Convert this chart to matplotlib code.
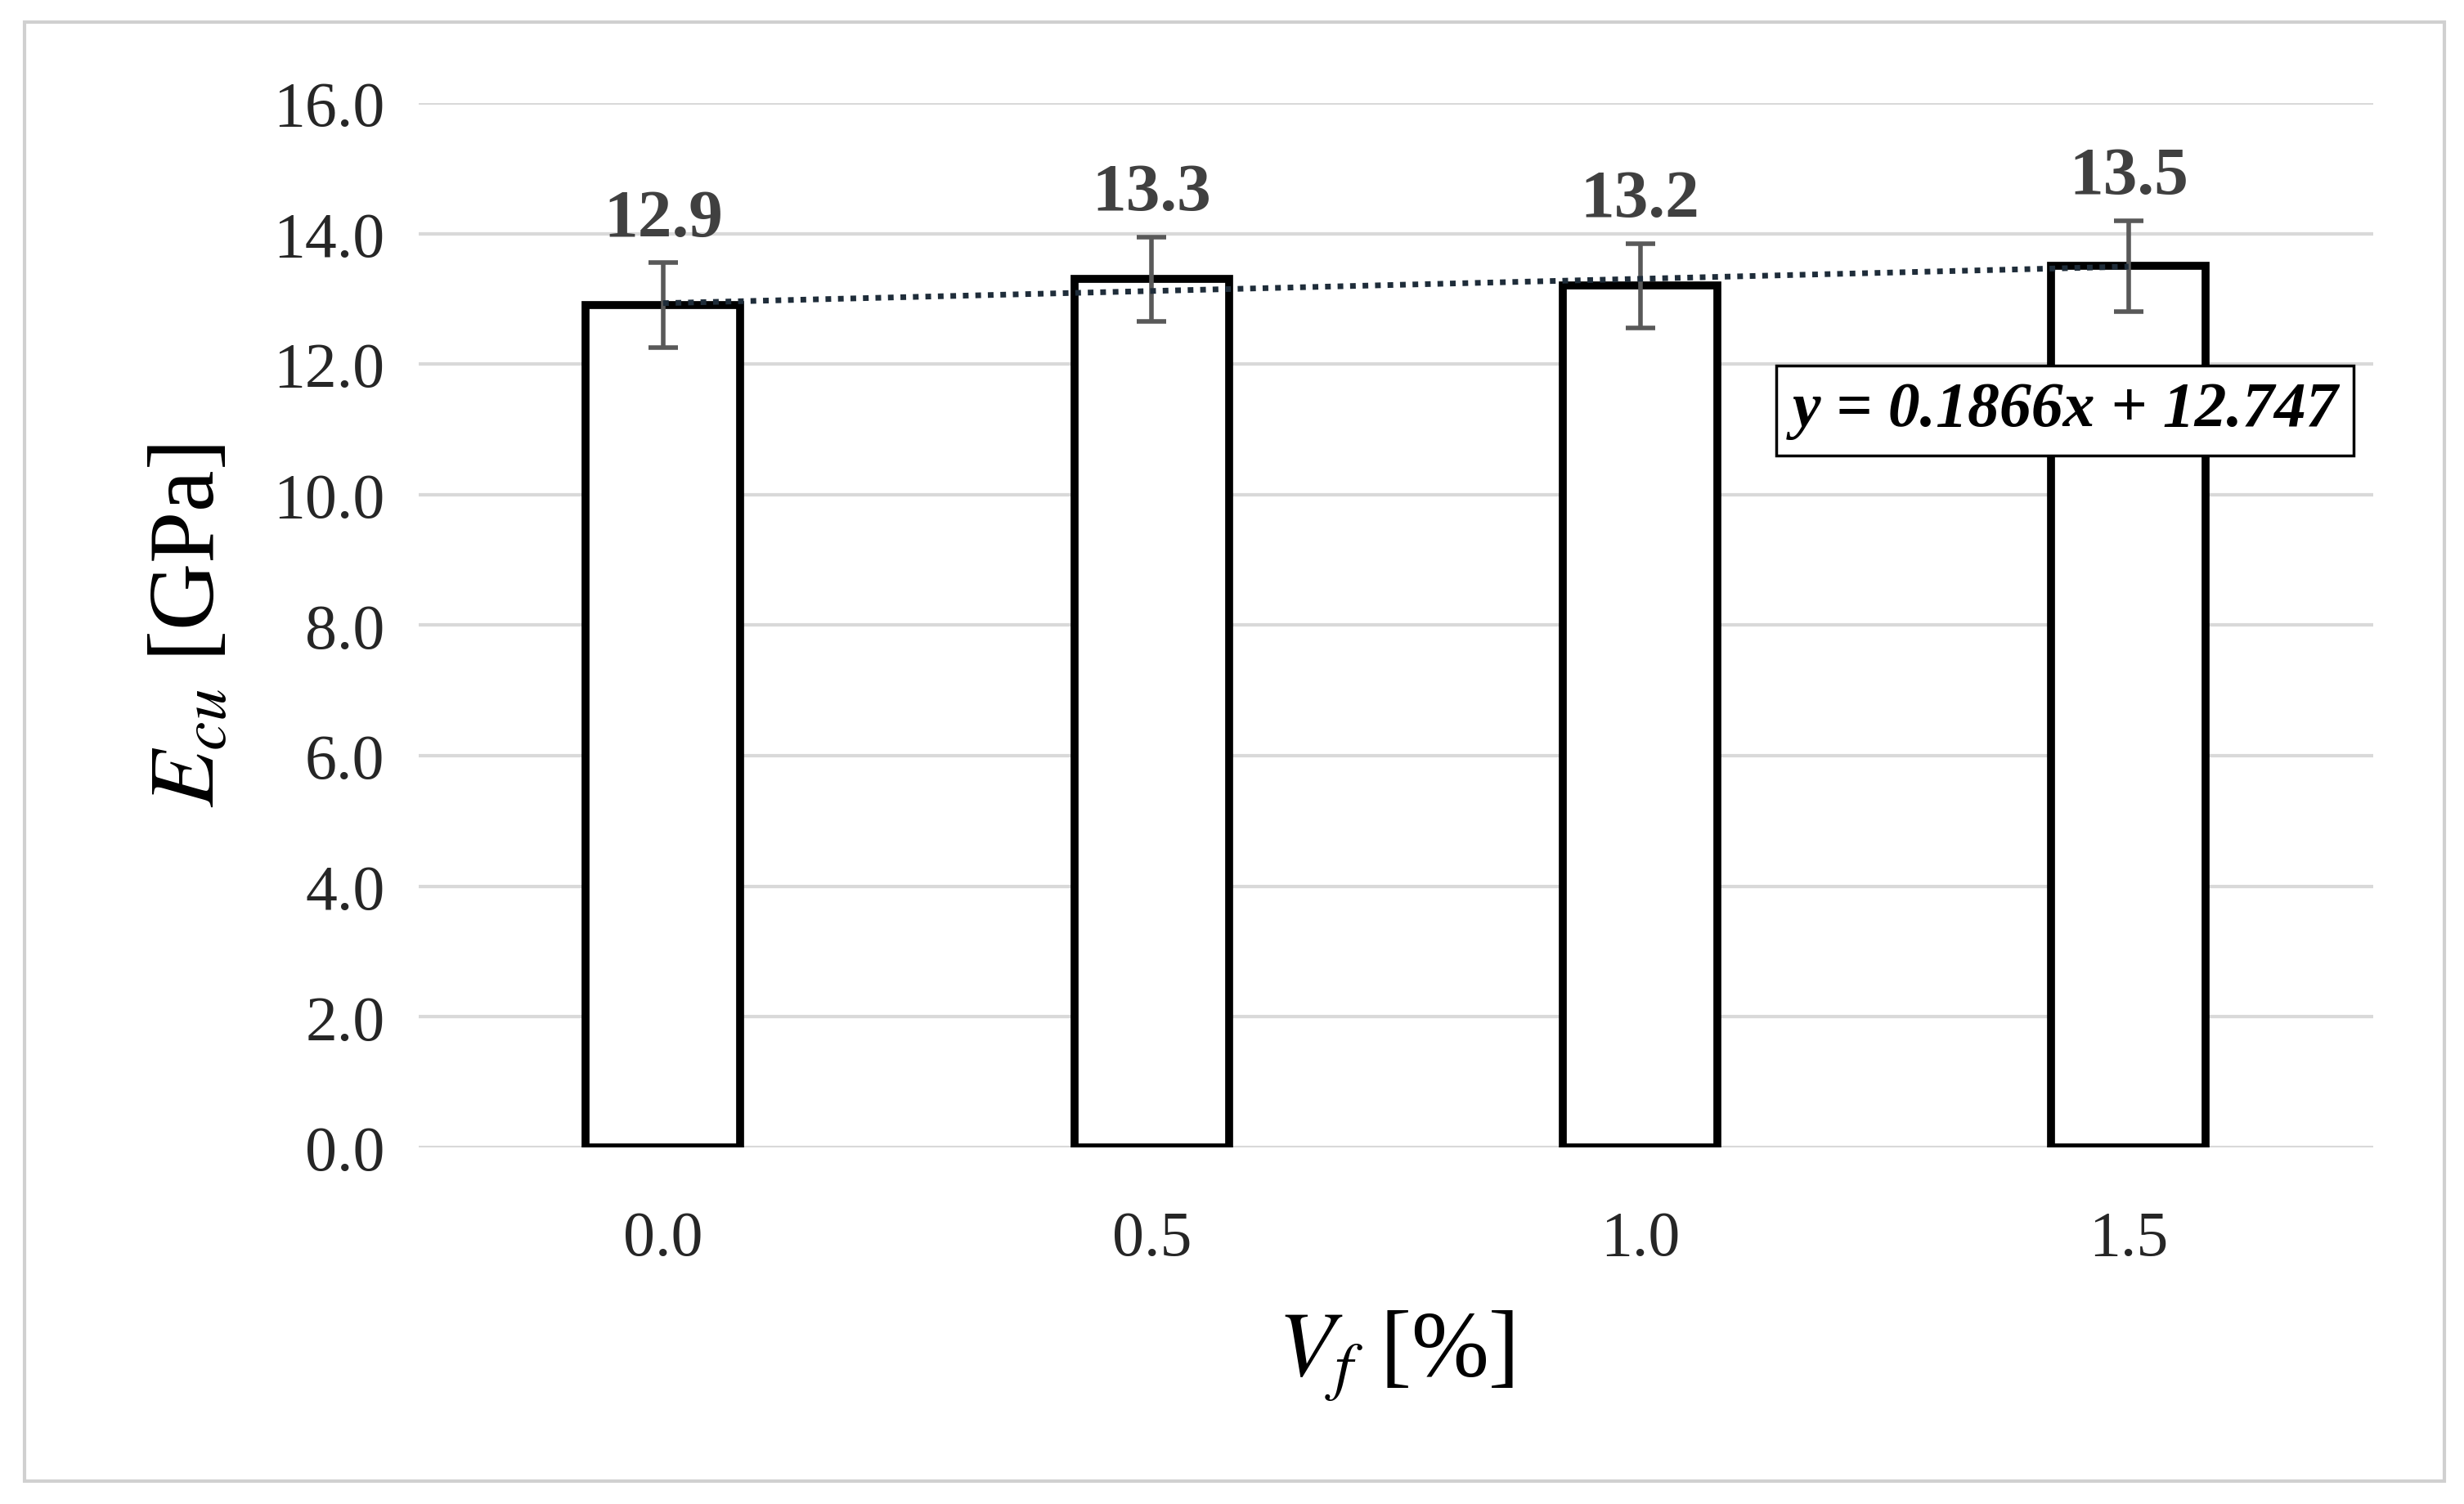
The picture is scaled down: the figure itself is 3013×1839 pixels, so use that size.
import matplotlib
matplotlib.use("Agg")
import matplotlib.pyplot as plt
from matplotlib.patches import Rectangle

categories = ["0.0", "0.5", "1.0", "1.5"]
values = [12.9, 13.3, 13.2, 13.5]
errors = [0.65, 0.65, 0.65, 0.7]
yticks = [0, 2, 4, 6, 8, 10, 12, 14, 16]
slope, intercept = 0.1866, 12.747

plt.rcParams['font.family'] = ['Liberation Serif', 'DejaVu Serif']
plt.rcParams['mathtext.fontset'] = 'stix'

fig = plt.figure(figsize=(30.13, 18.4), dpi=100)
ax = fig.add_axes([0.170, 0.237, 0.793, 0.694])
x = list(range(len(categories)))
ax.bar(x, values, width=0.316, facecolor='white', edgecolor='black', linewidth=7, zorder=3)
ax.errorbar(x, values, yerr=errors, fmt='none', ecolor='#595959', elinewidth=4, capsize=13, capthick=4, zorder=4)
trend = [slope * (i + 1) + intercept for i in x]
ax.plot(x, trend, linestyle=(0, (1, 1.2)), color='#1f2d3a', linewidth=5, zorder=5)
for i, v in enumerate(values):
    ax.text(i, v + errors[i] + 0.2, f"{v:.1f}", ha='center', va='bottom', fontsize=60,
            fontweight='bold', color='#404040', zorder=6)
ax.text(2.87, 11.29, "y = 0.1866x + 12.747", ha='center', va='center', fontsize=56,
        fontweight='bold', style='italic', color='black', zorder=7,
        bbox=dict(boxstyle='square,pad=0.25', facecolor='white', edgecolor='black', linewidth=2.5))
ax.set_xlim(-0.5, 3.5)
ax.set_ylim(0, 16)
ax.set_yticks(yticks)
ax.set_yticklabels([f"{t:.1f}" for t in yticks])
ax.set_xticks(x)
ax.set_xticklabels(categories)
ax.tick_params(axis='both', length=0, labelsize=56, colors='#262626', pad=30)
ax.tick_params(axis='x', pad=55)
ax.grid(axis='y', color='#d9d9d9', linewidth=3, zorder=0)
for s in ax.spines.values():
    s.set_visible(False)
ax.set_ylabel(r"$E_{cu}$ [GPa]", fontsize=82, labelpad=35)
ax.set_xlabel(r"$V_f$ [%]", fontsize=82, labelpad=35)
fig.patches.append(Rectangle((0.01, 0.015), 0.982, 0.97, transform=fig.transFigure,
                             fill=False, edgecolor='#d0d0d0', linewidth=3))
fig.savefig("out.png", dpi=100)
